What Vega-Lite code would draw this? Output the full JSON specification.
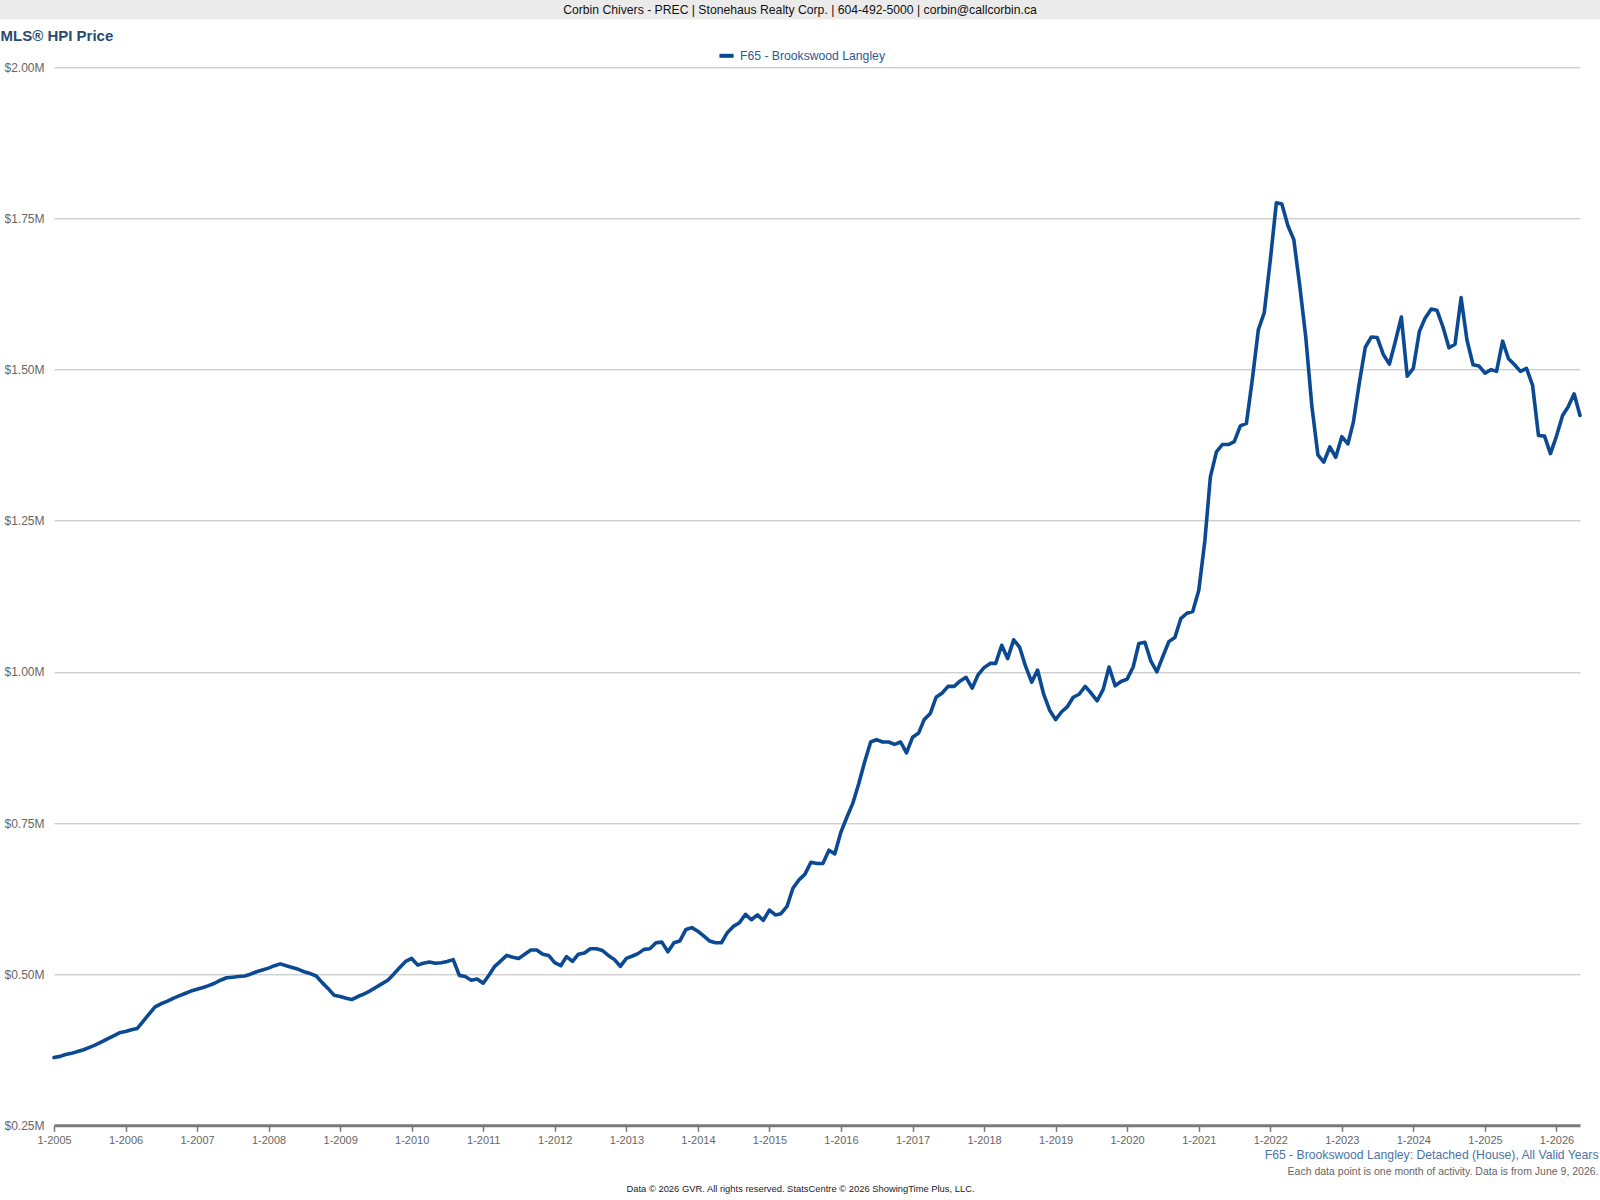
{
  "$schema": "https://vega.github.io/schema/vega-lite/v6.json",
  "width": 1526,
  "height": 1058,
  "autosize": {"type": "none"},
  "padding": {"left": 54, "top": 67.3, "right": 20, "bottom": 74.7},
  "background": "white",
  "config": {"font": "Liberation Sans", "view": {"stroke": null}},
  "title": {
    "text": "Corbin Chivers - PREC | Stonehaus Realty Corp. | 604-492-5000 | corbin@callcorbin.ca",
    "anchor": "middle",
    "frame": "group",
    "fontSize": 12.2,
    "fontWeight": "normal",
    "color": "#111111",
    "dx": -17,
    "offset": -22,
    "baseline": "middle"
  },
  "data": {
    "values": [
      {"date": "2005-01-01", "price": 362000}, {"date": "2005-02-01", "price": 364000}, {"date": "2005-03-01", "price": 367000}, {"date": "2005-04-01", "price": 369000}, {"date": "2005-05-01", "price": 372000}, {"date": "2005-06-01", "price": 375000}, {"date": "2005-07-01", "price": 379000}, {"date": "2005-08-01", "price": 383000}, {"date": "2005-09-01", "price": 388000}, {"date": "2005-10-01", "price": 393000}, {"date": "2005-11-01", "price": 398000}, {"date": "2005-12-01", "price": 403000},
      {"date": "2006-01-01", "price": 405000}, {"date": "2006-02-01", "price": 408000}, {"date": "2006-03-01", "price": 410000}, {"date": "2006-04-01", "price": 422000}, {"date": "2006-05-01", "price": 434000}, {"date": "2006-06-01", "price": 446000}, {"date": "2006-07-01", "price": 451000}, {"date": "2006-08-01", "price": 455000}, {"date": "2006-09-01", "price": 460000}, {"date": "2006-10-01", "price": 464000}, {"date": "2006-11-01", "price": 468000}, {"date": "2006-12-01", "price": 472000},
      {"date": "2007-01-01", "price": 475000}, {"date": "2007-02-01", "price": 478000}, {"date": "2007-03-01", "price": 481000}, {"date": "2007-04-01", "price": 485000}, {"date": "2007-05-01", "price": 490000}, {"date": "2007-06-01", "price": 494000}, {"date": "2007-07-01", "price": 495000}, {"date": "2007-08-01", "price": 496000}, {"date": "2007-09-01", "price": 497000}, {"date": "2007-10-01", "price": 500000}, {"date": "2007-11-01", "price": 504000}, {"date": "2007-12-01", "price": 507000},
      {"date": "2008-01-01", "price": 510000}, {"date": "2008-02-01", "price": 514000}, {"date": "2008-03-01", "price": 517000}, {"date": "2008-04-01", "price": 514000}, {"date": "2008-05-01", "price": 511000}, {"date": "2008-06-01", "price": 508000}, {"date": "2008-07-01", "price": 504000}, {"date": "2008-08-01", "price": 501000}, {"date": "2008-09-01", "price": 497000}, {"date": "2008-10-01", "price": 486000}, {"date": "2008-11-01", "price": 476000}, {"date": "2008-12-01", "price": 465000},
      {"date": "2009-01-01", "price": 463000}, {"date": "2009-02-01", "price": 460000}, {"date": "2009-03-01", "price": 458000}, {"date": "2009-04-01", "price": 463000}, {"date": "2009-05-01", "price": 467000}, {"date": "2009-06-01", "price": 472000}, {"date": "2009-07-01", "price": 478000}, {"date": "2009-08-01", "price": 484000}, {"date": "2009-09-01", "price": 490000}, {"date": "2009-10-01", "price": 500000}, {"date": "2009-11-01", "price": 511000}, {"date": "2009-12-01", "price": 521000},
      {"date": "2010-01-01", "price": 526000}, {"date": "2010-02-01", "price": 515000}, {"date": "2010-03-01", "price": 518000}, {"date": "2010-04-01", "price": 520000}, {"date": "2010-05-01", "price": 518000}, {"date": "2010-06-01", "price": 519000}, {"date": "2010-07-01", "price": 521000}, {"date": "2010-08-01", "price": 524000}, {"date": "2010-09-01", "price": 498000}, {"date": "2010-10-01", "price": 496000}, {"date": "2010-11-01", "price": 490000}, {"date": "2010-12-01", "price": 492000},
      {"date": "2011-01-01", "price": 485000}, {"date": "2011-02-01", "price": 499000}, {"date": "2011-03-01", "price": 513000}, {"date": "2011-04-01", "price": 522000}, {"date": "2011-05-01", "price": 531000}, {"date": "2011-06-01", "price": 528000}, {"date": "2011-07-01", "price": 526000}, {"date": "2011-08-01", "price": 533000}, {"date": "2011-09-01", "price": 540000}, {"date": "2011-10-01", "price": 540000}, {"date": "2011-11-01", "price": 533000}, {"date": "2011-12-01", "price": 531000},
      {"date": "2012-01-01", "price": 519000}, {"date": "2012-02-01", "price": 514000}, {"date": "2012-03-01", "price": 529000}, {"date": "2012-04-01", "price": 521000}, {"date": "2012-05-01", "price": 533000}, {"date": "2012-06-01", "price": 535000}, {"date": "2012-07-01", "price": 542000}, {"date": "2012-08-01", "price": 542000}, {"date": "2012-09-01", "price": 539000}, {"date": "2012-10-01", "price": 531000}, {"date": "2012-11-01", "price": 524000}, {"date": "2012-12-01", "price": 513000},
      {"date": "2013-01-01", "price": 526000}, {"date": "2013-02-01", "price": 530000}, {"date": "2013-03-01", "price": 534000}, {"date": "2013-04-01", "price": 541000}, {"date": "2013-05-01", "price": 542000}, {"date": "2013-06-01", "price": 552000}, {"date": "2013-07-01", "price": 553000}, {"date": "2013-08-01", "price": 537000}, {"date": "2013-09-01", "price": 552000}, {"date": "2013-10-01", "price": 555000}, {"date": "2013-11-01", "price": 574000}, {"date": "2013-12-01", "price": 577000},
      {"date": "2014-01-01", "price": 571000}, {"date": "2014-02-01", "price": 563000}, {"date": "2014-03-01", "price": 555000}, {"date": "2014-04-01", "price": 552000}, {"date": "2014-05-01", "price": 552000}, {"date": "2014-06-01", "price": 569000}, {"date": "2014-07-01", "price": 579000}, {"date": "2014-08-01", "price": 585000}, {"date": "2014-09-01", "price": 599000}, {"date": "2014-10-01", "price": 590000}, {"date": "2014-11-01", "price": 598000}, {"date": "2014-12-01", "price": 589000},
      {"date": "2015-01-01", "price": 606000}, {"date": "2015-02-01", "price": 598000}, {"date": "2015-03-01", "price": 600000}, {"date": "2015-04-01", "price": 612000}, {"date": "2015-05-01", "price": 642000}, {"date": "2015-06-01", "price": 656000}, {"date": "2015-07-01", "price": 665000}, {"date": "2015-08-01", "price": 685000}, {"date": "2015-09-01", "price": 683000}, {"date": "2015-10-01", "price": 683000}, {"date": "2015-11-01", "price": 705000}, {"date": "2015-12-01", "price": 699000},
      {"date": "2016-01-01", "price": 735000}, {"date": "2016-02-01", "price": 760000}, {"date": "2016-03-01", "price": 782000}, {"date": "2016-04-01", "price": 815000}, {"date": "2016-05-01", "price": 851000}, {"date": "2016-06-01", "price": 884000}, {"date": "2016-07-01", "price": 888000}, {"date": "2016-08-01", "price": 884000}, {"date": "2016-09-01", "price": 884000}, {"date": "2016-10-01", "price": 880000}, {"date": "2016-11-01", "price": 884000}, {"date": "2016-12-01", "price": 866000},
      {"date": "2017-01-01", "price": 892000}, {"date": "2017-02-01", "price": 899000}, {"date": "2017-03-01", "price": 921000}, {"date": "2017-04-01", "price": 931000}, {"date": "2017-05-01", "price": 958000}, {"date": "2017-06-01", "price": 965000}, {"date": "2017-07-01", "price": 976000}, {"date": "2017-08-01", "price": 976000}, {"date": "2017-09-01", "price": 985000}, {"date": "2017-10-01", "price": 991000}, {"date": "2017-11-01", "price": 973000}, {"date": "2017-12-01", "price": 995000},
      {"date": "2018-01-01", "price": 1007000}, {"date": "2018-02-01", "price": 1014000}, {"date": "2018-03-01", "price": 1014000}, {"date": "2018-04-01", "price": 1044000}, {"date": "2018-05-01", "price": 1022000}, {"date": "2018-06-01", "price": 1053000}, {"date": "2018-07-01", "price": 1041000}, {"date": "2018-08-01", "price": 1009000}, {"date": "2018-09-01", "price": 983000}, {"date": "2018-10-01", "price": 1003000}, {"date": "2018-11-01", "price": 963000}, {"date": "2018-12-01", "price": 937000},
      {"date": "2019-01-01", "price": 921000}, {"date": "2019-02-01", "price": 934000}, {"date": "2019-03-01", "price": 942000}, {"date": "2019-04-01", "price": 958000}, {"date": "2019-05-01", "price": 963000}, {"date": "2019-06-01", "price": 976000}, {"date": "2019-07-01", "price": 965000}, {"date": "2019-08-01", "price": 952000}, {"date": "2019-09-01", "price": 971000}, {"date": "2019-10-01", "price": 1008000}, {"date": "2019-11-01", "price": 977000}, {"date": "2019-12-01", "price": 984000},
      {"date": "2020-01-01", "price": 988000}, {"date": "2020-02-01", "price": 1008000}, {"date": "2020-03-01", "price": 1047000}, {"date": "2020-04-01", "price": 1049000}, {"date": "2020-05-01", "price": 1018000}, {"date": "2020-06-01", "price": 1000000}, {"date": "2020-07-01", "price": 1025000}, {"date": "2020-08-01", "price": 1050000}, {"date": "2020-09-01", "price": 1057000}, {"date": "2020-10-01", "price": 1088000}, {"date": "2020-11-01", "price": 1097000}, {"date": "2020-12-01", "price": 1100000},
      {"date": "2021-01-01", "price": 1135000}, {"date": "2021-02-01", "price": 1217000}, {"date": "2021-03-01", "price": 1322000}, {"date": "2021-04-01", "price": 1364000}, {"date": "2021-05-01", "price": 1376000}, {"date": "2021-06-01", "price": 1376000}, {"date": "2021-07-01", "price": 1381000}, {"date": "2021-08-01", "price": 1407000}, {"date": "2021-09-01", "price": 1411000}, {"date": "2021-10-01", "price": 1483000}, {"date": "2021-11-01", "price": 1566000}, {"date": "2021-12-01", "price": 1594000},
      {"date": "2022-01-01", "price": 1681000}, {"date": "2022-02-01", "price": 1776000}, {"date": "2022-03-01", "price": 1774000}, {"date": "2022-04-01", "price": 1738000}, {"date": "2022-05-01", "price": 1715000}, {"date": "2022-06-01", "price": 1637000}, {"date": "2022-07-01", "price": 1554000}, {"date": "2022-08-01", "price": 1440000}, {"date": "2022-09-01", "price": 1359000}, {"date": "2022-10-01", "price": 1347000}, {"date": "2022-11-01", "price": 1372000}, {"date": "2022-12-01", "price": 1355000},
      {"date": "2023-01-01", "price": 1389000}, {"date": "2023-02-01", "price": 1377000}, {"date": "2023-03-01", "price": 1413000}, {"date": "2023-04-01", "price": 1479000}, {"date": "2023-05-01", "price": 1537000}, {"date": "2023-06-01", "price": 1554000}, {"date": "2023-07-01", "price": 1553000}, {"date": "2023-08-01", "price": 1525000}, {"date": "2023-09-01", "price": 1509000}, {"date": "2023-10-01", "price": 1546000}, {"date": "2023-11-01", "price": 1587000}, {"date": "2023-12-01", "price": 1489000},
      {"date": "2024-01-01", "price": 1502000}, {"date": "2024-02-01", "price": 1563000}, {"date": "2024-03-01", "price": 1585000}, {"date": "2024-04-01", "price": 1600000}, {"date": "2024-05-01", "price": 1598000}, {"date": "2024-06-01", "price": 1570000}, {"date": "2024-07-01", "price": 1536000}, {"date": "2024-08-01", "price": 1542000}, {"date": "2024-09-01", "price": 1619000}, {"date": "2024-10-01", "price": 1549000}, {"date": "2024-11-01", "price": 1508000}, {"date": "2024-12-01", "price": 1506000},
      {"date": "2025-01-01", "price": 1494000}, {"date": "2025-02-01", "price": 1500000}, {"date": "2025-03-01", "price": 1497000}, {"date": "2025-04-01", "price": 1547000}, {"date": "2025-05-01", "price": 1518000}, {"date": "2025-06-01", "price": 1508000}, {"date": "2025-07-01", "price": 1497000}, {"date": "2025-08-01", "price": 1502000}, {"date": "2025-09-01", "price": 1474000}, {"date": "2025-10-01", "price": 1391000}, {"date": "2025-11-01", "price": 1390000}, {"date": "2025-12-01", "price": 1361000},
      {"date": "2026-01-01", "price": 1390000}, {"date": "2026-02-01", "price": 1424000}, {"date": "2026-03-01", "price": 1438000}, {"date": "2026-04-01", "price": 1460000}, {"date": "2026-05-01", "price": 1424000}
    ]
  },
  "layer": [
    {
      "data": {"values": [{"band": "header"}]},
      "mark": {"type": "rect", "fill": "#ebebeb", "clip": false},
      "encoding": {
        "x": {"datum": {"year": 2003, "month": 1, "date": 1, "utc": true}, "type": "temporal", "scale": {"type": "utc", "domain": [{"year": 2005, "month": 1, "date": 1, "utc": true}, {"year": 2026, "month": 5, "date": 1, "utc": true}]}, "axis": null},
        "x2": {"datum": {"year": 2028, "month": 1, "date": 1, "utc": true}},
        "y": {"datum": 2079000, "type": "quantitative", "scale": {"domain": [250000, 2000000], "nice": false, "zero": false}, "axis": null},
        "y2": {"datum": 2111300}
      }
    },
    {
      "mark": {"type": "line", "strokeWidth": 3.6, "strokeJoin": "round", "strokeCap": "round"},
      "encoding": {
        "x": {
          "field": "date", "type": "temporal",
          "scale": {"type": "utc", "domain": [{"year": 2005, "month": 1, "date": 1, "utc": true}, {"year": 2026, "month": 5, "date": 1, "utc": true}]},
          "axis": {
            "orient": "bottom",
            "labelExpr": "utcFormat(datum.value, '%-m-%Y')",
            "tickCount": {"interval": "year", "step": 1},
            "labelFontSize": 11, "labelColor": "#666666", "labelPadding": 3, "labelFlush": false, "labelOverlap": false,
            "tickColor": "#777777", "tickSize": 6, "tickWidth": 1.5,
            "domainColor": "#7a7a7a", "domainWidth": 3, "grid": false,
            "title": "F65 - Brookswood Langley: Detached (House), All Valid Years",
            "titleColor": "#4a74a8", "titleFontSize": 12.2, "titleFontWeight": "normal",
            "titleAlign": "right", "titleBaseline": "middle", "titleX": 1544, "titleY": 29.5
          }
        },
        "y": {
          "field": "price", "type": "quantitative",
          "scale": {"domain": [250000, 2000000], "nice": false, "zero": false},
          "axis": {
            "orient": "left",
            "values": [250000, 500000, 750000, 1000000, 1250000, 1500000, 1750000, 2000000],
            "labelExpr": "'$' + format(datum.value / 1000000, '.2f') + 'M'",
            "labelFontSize": 12, "labelColor": "#666666", "labelPadding": 10,
            "ticks": false, "domain": false, "grid": true, "gridColor": "#bbbbbb", "gridWidth": 1,
            "title": "MLS® HPI Price", "titleAngle": 0, "titleAlign": "left", "titleBaseline": "middle",
            "titleX": -54, "titleY": -32.3, "titleFontSize": 15, "titleFontWeight": "bold", "titleColor": "#2b4a72"
          }
        },
        "color": {
          "datum": "F65 - Brookswood Langley", "type": "nominal",
          "scale": {"range": ["#0b4a92"]},
          "legend": {
            "orient": "none", "legendX": 663, "legendY": -21, "title": null,
            "symbolType": "stroke", "symbolStrokeWidth": 4, "symbolSize": 200,
            "labelFontSize": 12.2, "labelColor": "#2c5a93", "padding": 0, "labelOffset": 4
          }
        }
      }
    },
    {
      "mark": {"type": "point", "opacity": 0},
      "encoding": {
        "x": {
          "field": "date", "type": "temporal",
          "scale": {"type": "utc", "domain": [{"year": 2005, "month": 1, "date": 1, "utc": true}, {"year": 2026, "month": 5, "date": 1, "utc": true}]},
          "axis": {
            "orient": "bottom",
            "labels": false, "ticks": false, "domain": false, "grid": false,
            "title": "Each data point is one month of activity. Data is from June 9, 2026.",
            "titleColor": "#666666", "titleFontSize": 10.5, "titleFontWeight": "normal",
            "titleAlign": "right", "titleBaseline": "middle", "titleX": 1544, "titleY": 46
          }
        },
        "y": {"field": "price", "type": "quantitative", "scale": {"domain": [250000, 2000000], "nice": false, "zero": false}, "axis": null}
      }
    },
    {
      "mark": {"type": "point", "opacity": 0},
      "encoding": {
        "x": {
          "field": "date", "type": "temporal",
          "scale": {"type": "utc", "domain": [{"year": 2005, "month": 1, "date": 1, "utc": true}, {"year": 2026, "month": 5, "date": 1, "utc": true}]},
          "axis": {
            "orient": "bottom",
            "labels": false, "ticks": false, "domain": false, "grid": false,
            "title": "Data © 2026 GVR. All rights reserved. StatsCentre © 2026 ShowingTime Plus, LLC.",
            "titleColor": "#222222", "titleFontSize": 9.4, "titleFontWeight": "normal",
            "titleAlign": "center", "titleBaseline": "middle", "titleX": 746, "titleY": 63.5
          }
        },
        "y": {"field": "price", "type": "quantitative", "scale": {"domain": [250000, 2000000], "nice": false, "zero": false}, "axis": null}
      }
    }
  ],
  "resolve": {"axis": {"x": "independent", "y": "independent"}}
}
